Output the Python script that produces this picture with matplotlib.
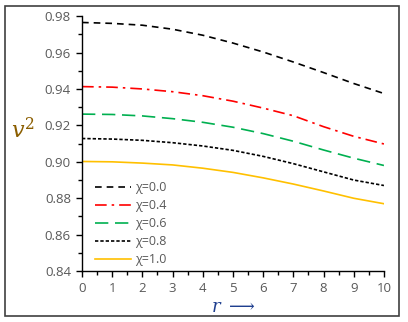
import matplotlib.pyplot as plt
from matplotlib.patches import Rectangle
from matplotlib.ticker import MultipleLocator

r = [0, 1, 2, 3, 4, 5, 6, 7, 8, 9, 10]
v_chi00 = [0.9765, 0.9760, 0.9750, 0.9728, 0.9695, 0.9652, 0.9603, 0.9548, 0.9490, 0.9430, 0.9375]
v_chi04 = [0.9413, 0.9410, 0.9400, 0.9385, 0.9363, 0.9333, 0.9295, 0.9253, 0.9193, 0.9140, 0.9098]
v_chi06 = [0.9262, 0.9260, 0.9252, 0.9237, 0.9217, 0.9190, 0.9155, 0.9113, 0.9065, 0.9020, 0.8980]
v_chi08 = [0.9128, 0.9125, 0.9118, 0.9105, 0.9087, 0.9063, 0.9030, 0.8990, 0.8945, 0.8900, 0.8870]
v_chi10 = [0.9002, 0.9000, 0.8993, 0.8983, 0.8965, 0.8942, 0.8912, 0.8878, 0.8840, 0.8800, 0.8770]
labels = ["χ=0.0", "χ=0.4", "χ=0.6", "χ=0.8", "χ=1.0"]

plt.rcParams['font.family'] = ['Open Sans', 'DejaVu Sans']
plt.rcParams['mathtext.fontset'] = 'dejavuserif'

fig = plt.figure(figsize=(4.08, 3.22), dpi=100)
ax = fig.add_axes([0.201, 0.158, 0.740, 0.792])

ax.plot(r, v_chi00, color="black", lw=1.2, dashes=(4, 3), label=labels[0])
ax.plot(r, v_chi04, color="#FF0000", lw=1.2, dashes=(7, 3, 1.5, 3), label=labels[1])
ax.plot(r, v_chi06, color="#00B050", lw=1.2, dashes=(8, 4), label=labels[2])
ax.plot(r, v_chi08, color="black", lw=1.2, dashes=(2, 1.2), label=labels[3])
ax.plot(r, v_chi10, color="#FFC000", lw=1.2, label=labels[4])

ax.set_xlim(0, 10)
ax.set_ylim(0.84, 0.98)
ax.xaxis.set_major_locator(MultipleLocator(1))
ax.xaxis.set_minor_locator(MultipleLocator(0.5))
ax.yaxis.set_major_locator(MultipleLocator(0.02))
ax.yaxis.set_minor_locator(MultipleLocator(0.01))
ax.yaxis.set_major_formatter(plt.FuncFormatter(lambda v, p: f"{v:.2f}"))

for s in ["top", "right"]:
    ax.spines[s].set_visible(False)
for s in ["left", "bottom"]:
    ax.spines[s].set_color("black")
    ax.spines[s].set_linewidth(1.0)

ax.tick_params(which="major", direction="out", length=4, width=1, colors="black",
               labelcolor="#595959", labelsize=9.5, pad=4)
ax.tick_params(which="minor", direction="out", length=3, width=1, colors="black")

ax.set_ylabel(r"$v^2$", rotation=0, fontsize=16, color="#8B5E00", labelpad=8)
ax.yaxis.set_label_coords(-0.195, 0.50)
ax.set_xlabel(r"$r\ \longrightarrow$", fontsize=13, color="#1F3F8F", labelpad=2)

ax.legend(loc="lower left", bbox_to_anchor=(0.005, -0.025), frameon=False,
          fontsize=9, handlelength=2.9, handletextpad=0.35,
          labelspacing=0.40, labelcolor="#595959")

fig.patches.append(Rectangle((5 / 408, 6 / 322), 394 / 408, 310 / 322,
                             transform=fig.transFigure, fill=False,
                             edgecolor="#404040", lw=1.2))

fig.savefig("out.png", dpi=100)
